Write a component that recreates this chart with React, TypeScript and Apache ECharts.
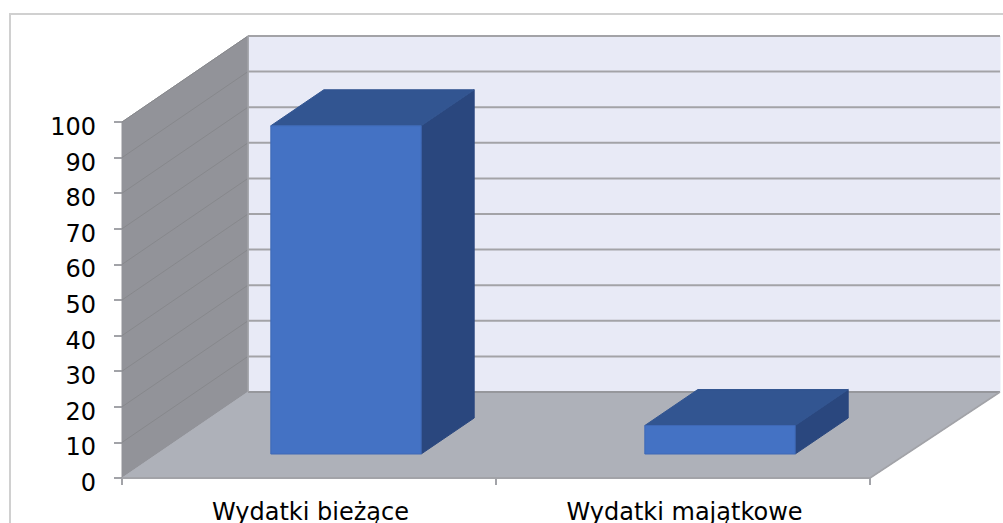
import React, { useEffect, useRef } from "react";
import * as echarts from "echarts";

const categories = ["Wydatki bieżące", "Wydatki majątkowe"];
const seriesValues = [92.2, 8.0];
const tickValues = [0, 10, 20, 30, 40, 50, 60, 70, 80, 90, 100];

const WALL_DX = 126;
const WALL_DY = -86;
const BACK_RIGHT_X = 1000;
const BAR_SHIFT_X = 37;
const BAR_SHIFT_Y = -24;
const BAR_DX = 53;
const BAR_DY = -36;
const BAR_RATIO = 0.402;

function poly(points: number[][], fill: string, stroke?: string, lineWidth = 1) {
  return {
    type: "polygon",
    shape: { points },
    style: { fill, stroke: stroke || fill, lineWidth },
  };
}

function line(a: number[], b: number[], stroke: string, lineWidth: number) {
  return {
    type: "line",
    shape: { x1: a[0], y1: a[1], x2: b[0], y2: b[1] },
    style: { stroke, lineWidth },
  };
}

function renderWalls(params: any, api: any) {
  const cs = params.coordSys;
  const left = cs.x;
  const right = cs.x + cs.width;
  const y0 = api.coord([0, 0])[1];
  const yMax = api.coord([0, tickValues[tickValues.length - 1]])[1];
  const bx = left + WALL_DX;
  const children: any[] = [
    poly([[bx, yMax + WALL_DY], [BACK_RIGHT_X, yMax + WALL_DY], [BACK_RIGHT_X, y0 + WALL_DY], [bx, y0 + WALL_DY]], "#e8eaf6"),
    poly([[left, yMax], [bx, yMax + WALL_DY], [bx, y0 + WALL_DY], [left, y0]], "#929399"),
    poly([[left, y0], [bx, y0 + WALL_DY], [BACK_RIGHT_X, y0 + WALL_DY], [right, y0]], "#aeb1b9"),
  ];
  tickValues.forEach((t) => {
    const y = api.coord([0, t])[1];
    if (t > 0) children.push(line([left, y], [bx, y + WALL_DY], "#87888c", 1));
    children.push(line([bx, y + WALL_DY], [BACK_RIGHT_X, y + WALL_DY], t === 0 ? "#96979c" : "#a3a3a7", 2));
  });
  children.push(line([bx, yMax + WALL_DY], [bx, y0 + WALL_DY], "#a2a3a8", 1.5));
  children.push(line([right, y0], [BACK_RIGHT_X, y0 + WALL_DY], "#a2a3a8", 1.5));
  children.push(line([left, y0], [right, y0], "#a2a3a8", 2));
  return { type: "group", children };
}

function renderBar(_params: any, api: any) {
  const idx = api.value(0);
  const val = api.value(1);
  const top = api.coord([idx, val]);
  const base = api.coord([idx, 0]);
  const w = api.size([1, 0])[0] * BAR_RATIO;
  const x1 = top[0] + BAR_SHIFT_X - w / 2;
  const x2 = x1 + w;
  const yT = top[1] + BAR_SHIFT_Y;
  const yB = base[1] + BAR_SHIFT_Y;
  return {
    type: "group",
    children: [
      poly([[x2, yT], [x2 + BAR_DX, yT + BAR_DY], [x2 + BAR_DX, yB + BAR_DY], [x2, yB]], "#2a477e"),
      poly([[x1, yT], [x1 + BAR_DX, yT + BAR_DY], [x2 + BAR_DX, yT + BAR_DY], [x2, yT]], "#325591"),
      poly([[x1, yT], [x2, yT], [x2, yB], [x1, yB]], "#4472c4", "#3f69b6"),
    ],
  };
}

export default function App() {
  const ref = useRef<HTMLDivElement>(null);
  useEffect(() => {
    const chart = echarts.init(ref.current!, null, { renderer: "svg" });
    chart.setOption({
      animation: false,
      backgroundColor: "#ffffff",
      grid: { left: 122, right: 133, top: 122, bottom: 45, outerBoundsMode: "none" },
      graphic: [
        {
          type: "rect",
          silent: true,
          shape: { x: 10, y: 14, width: 1010, height: 530 },
          style: { fill: "none", stroke: "#d0d0d0", lineWidth: 2 },
        },
      ],
      xAxis: {
        type: "category",
        data: categories,
        axisLine: { show: false },
        axisTick: { show: true, length: 7, alignWithLabel: false, lineStyle: { color: "#a2a3a8", width: 2 } },
        axisLabel: {
          color: "#000000",
          fontFamily: "DejaVu Sans",
          fontSize: 24,
          margin: 22,
          padding: [0, 0, 0, 3],
        },
      },
      yAxis: {
        type: "value",
        min: 0,
        max: 100,
        interval: 10,
        axisLine: { show: false },
        axisTick: { show: true, length: 8, lineStyle: { color: "#a2a3a8", width: 2 } },
        splitLine: { show: false },
        axisLabel: {
          color: "#000000",
          fontFamily: "DejaVu Sans",
          fontSize: 24,
          margin: 26,
          verticalAlign: "top",
          padding: [-7, 0, 0, 0],
        },
      },
      series: [
        {
          type: "custom",
          z: 1,
          silent: true,
          renderItem: renderWalls,
          data: [[0, 0]],
          encode: { x: 0, y: 1 },
        },
        {
          type: "custom",
          z: 2,
          renderItem: renderBar,
          data: seriesValues.map((v, i) => [i, v]),
          encode: { x: 0, y: 1 },
        },
      ],
    });
    return () => chart.dispose();
  }, []);
  return (
    <div
      ref={ref}
      style={{ position: "absolute", left: 0, top: 0, width: 1003, height: 523, overflow: "hidden" }}
    />
  );
}
